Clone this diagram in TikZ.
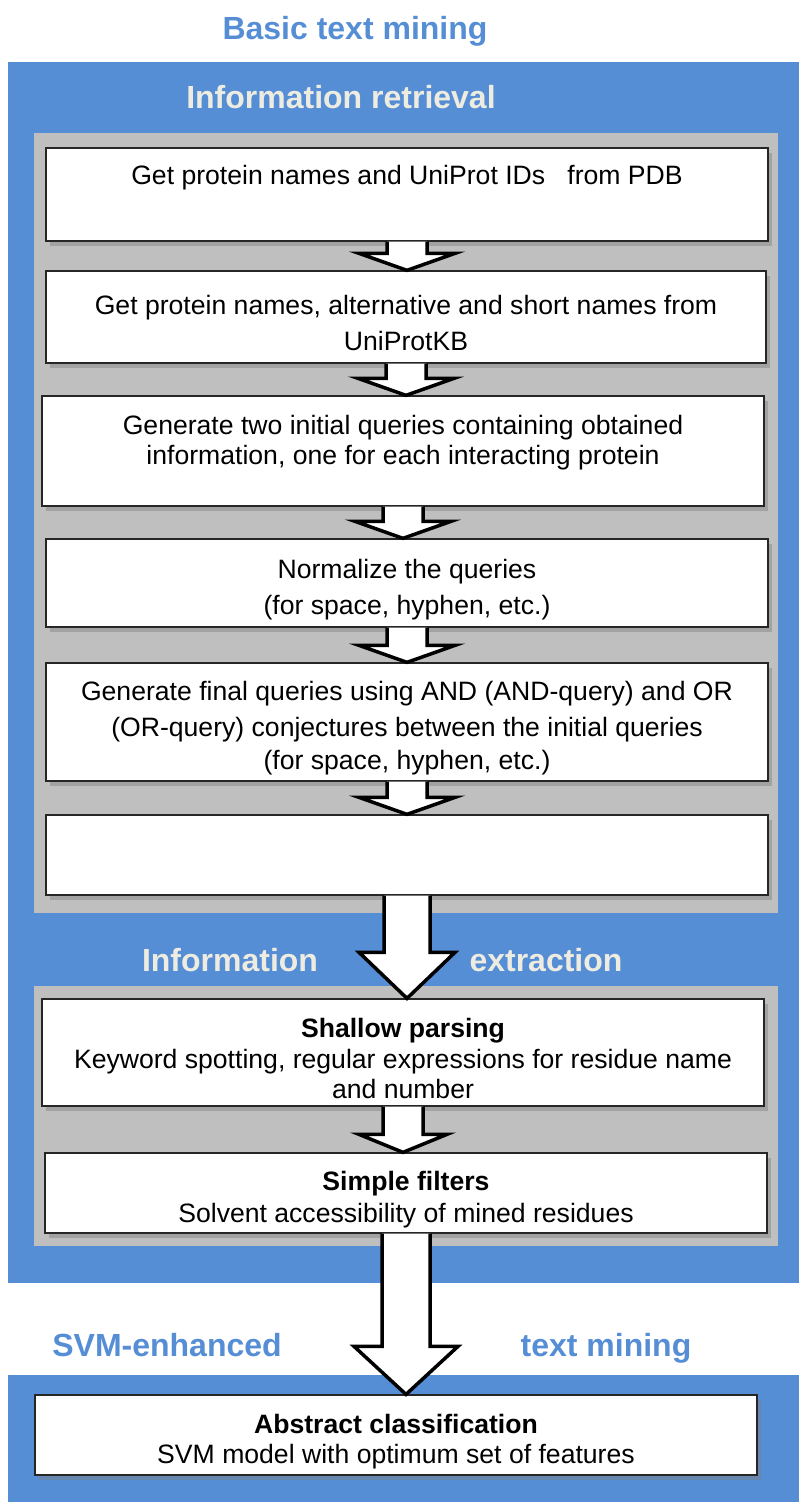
\documentclass[tikz,border=0pt]{standalone}
\usepackage{fontspec}
\setmainfont{Liberation Sans}
\usetikzlibrary{calc,shadows}

\definecolor{slideblue}{HTML}{558ED5}
\definecolor{panelgray}{HTML}{BFBFBF}
\definecolor{cream}{HTML}{EEECE1}

% extra room above the first line of a step
\newcommand{\tstrut}{\rule{0pt}{32pt}}

% block arrow: from, to, shaft half width, head half width, head length
\newcommand{\blockarrow}[5]{%
    \filldraw[flowarrow] ($(#1.south)+(-#3,0)$)
        -- ($(#1.south |- #2.north)+(-#3,-#5)$)
        -- ($(#1.south |- #2.north)+(-#4,-#5)$)
        -- (#1.south |- #2.north)
        -- ($(#1.south |- #2.north)+(#4,-#5)$)
        -- ($(#1.south |- #2.north)+(#3,-#5)$)
        -- ($(#1.south)+(#3,0)$);}

\begin{document}
\begin{tikzpicture}[x=1pt,y=-1pt]
    \tikzstyle{stepbox}=[draw=black!85,line width=1.3pt,fill=white,minimum width=722pt,
        align=center,font=\fontsize{26.6}{30}\selectfont,
        drop shadow={shadow xshift=4pt,shadow yshift=-5pt,opacity=0.45}]
    \tikzstyle{heading}=[font=\fontsize{32}{38}\selectfont\bfseries,text height=23pt,text depth=0pt,inner sep=0pt]
    \tikzstyle{flowarrow}=[draw=black,fill=white,line width=3.5pt,miter limit=20]

    \useasboundingbox (0,0) rectangle (799,1502);

    % panels
    \fill[slideblue] (8,62) rectangle (799,1283);
    \fill[slideblue] (8,1375) rectangle (799,1502);
    \fill[panelgray] (34,133) rectangle (778,913);
    \fill[panelgray] (34,986) rectangle (778,1246);

    % headings
    \node[heading,text=slideblue] (basic) at (355,28) {Basic text mining};
    \node[heading,text=cream] (ir) at (341,97) {Information retrieval};
    \node[heading,text=cream] (ie1) at (230,960) {Information};
    \node[heading,text=cream] (ie2) at (546,960) {extraction};
    \node[heading,text=slideblue] (svm1) at (167,1345) {SVM-enhanced};
    \node[heading,text=slideblue] (svm2) at (606,1345) {text mining};

    % information retrieval steps
    \node[stepbox,minimum height=93pt] (b1) at (407,194.5)
        {\tstrut Get protein names and UniProt IDs\ \ \ from PDB\\[22pt]\mbox{}};
    \node[stepbox,minimum height=92pt,minimum width=720pt] (b2) at (406,317)
        {\tstrut Get protein names, alternative and short names from\\[6pt]UniProtKB};
    \node[stepbox,minimum height=110pt] (b3) at (403,451)
        {\tstrut Generate two initial queries containing obtained\\information, one for each interacting protein\\[6pt]\mbox{}};
    \node[stepbox,minimum height=88pt] (b4) at (407,583)
        {\tstrut Normalize the queries\\[6pt](for space, hyphen, etc.)};
    \node[stepbox,minimum height=118pt] (b5) at (407,722)
        {\tstrut Generate final queries using AND (AND-query) and OR\\[6pt](OR-query) conjectures between the initial queries\\[3pt](for space, hyphen, etc.)};
    \node[stepbox,minimum height=80pt] (b6) at (407,855) {};

    % information extraction steps
    \node[stepbox,minimum height=107pt] (b7) at (403,1052.5)
        {\tstrut\textbf{Shallow parsing}\\[1pt]Keyword spotting, regular expressions for residue name\\and number};
    \node[stepbox,minimum height=80pt] (b8) at (406,1193)
        {\tstrut\textbf{Simple filters}\\[2pt]Solvent accessibility of mined residues};

    % SVM step
    \node[stepbox,minimum height=80pt] (b9) at (396,1435)
        {\tstrut\textbf{Abstract classification}\\SVM model with optimum set of features};

    \blockarrow{b1}{b2}{20}{48}{17}
    \blockarrow{b2}{b3}{20}{48}{17}
    \blockarrow{b3}{b4}{20}{48}{17}
    \blockarrow{b4}{b5}{20}{48}{17}
    \blockarrow{b5}{b6}{20}{48}{17}
    \blockarrow{b6}{b7}{23}{48}{46}
    \blockarrow{b7}{b8}{20}{44}{18}
    \blockarrow{b8}{b9}{24}{52}{48}
\end{tikzpicture}
\end{document}
